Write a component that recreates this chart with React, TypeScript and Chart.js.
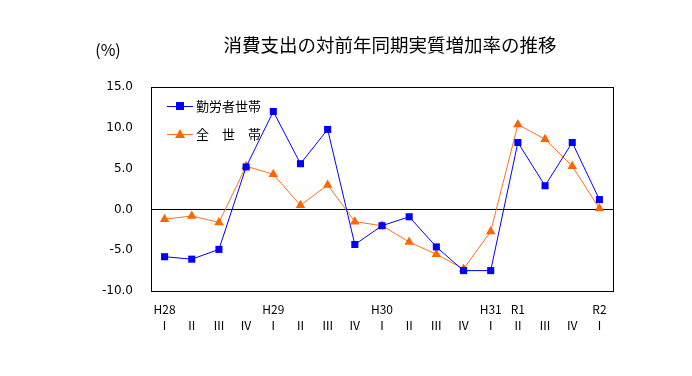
import React, { useEffect, useRef } from "react";
import { Chart, registerables } from "chart.js";

Chart.register(...registerables);

const yearLabels = ["H28", "", "", "", "H29", "", "", "", "H30", "", "", "", "H31", "R1", "", "", "R2"];
const quarterLabels = ["Ⅰ", "Ⅱ", "Ⅲ", "Ⅳ", "Ⅰ", "Ⅱ", "Ⅲ", "Ⅳ", "Ⅰ", "Ⅱ", "Ⅲ", "Ⅳ", "Ⅰ", "Ⅱ", "Ⅲ", "Ⅳ", "Ⅰ"];
const workerHouseholds = [-5.8, -6.1, -4.9, 5.2, 12.0, 5.6, 9.8, -4.3, -2.0, -0.9, -4.6, -7.5, -7.5, 8.2, 2.9, 8.2, 1.2];
const allHouseholds = [-1.2, -0.8, -1.6, 5.3, 4.3, 0.5, 3.0, -1.5, -2.0, -4.0, -5.5, -7.3, -2.7, 10.4, 8.6, 5.3, 0.1];
const seriesNames = ["勤労者世帯", "全　世　帯"];
const titleText = "消費支出の対前年同期実質増加率の推移";
const unitText = "(%)";

const FONT = "'Noto Sans CJK JP', 'DejaVu Sans', sans-serif";
const NUMFONT = "'DejaVu Sans', sans-serif";

const decorPlugin = {
  id: "decor",
  afterDraw(chart: any) {
    const { ctx, chartArea } = chart;
    ctx.save();
    ctx.strokeStyle = "#000";
    ctx.lineWidth = 1;
    ctx.strokeRect(
      Math.round(chartArea.left) + 0.5,
      Math.round(chartArea.top) + 0.5,
      Math.round(chartArea.right - chartArea.left),
      Math.round(chartArea.bottom - chartArea.top)
    );
    ctx.fillStyle = "#000";
    ctx.font = `18.5px ${FONT}`;
    ctx.textBaseline = "middle";
    ctx.textAlign = "center";
    ctx.fillText(titleText, 390, 45);
    ctx.font = `16px ${FONT}`;
    ctx.fillText(unitText, 108, 50);
    const ds = chart.data.datasets;
    const rows = [106, 134];
    ds.forEach((d: any, i: number) => {
      const y = rows[i];
      ctx.strokeStyle = d.borderColor;
      ctx.lineWidth = 1;
      ctx.beginPath();
      ctx.moveTo(167, y + 0.5);
      ctx.lineTo(193, y + 0.5);
      ctx.stroke();
      ctx.fillStyle = d.pointBackgroundColor;
      if (d.pointStyle === "rect") {
        ctx.fillRect(176, y - 4, 8, 8);
      } else {
        ctx.beginPath();
        ctx.moveTo(180, y - 5);
        ctx.lineTo(185, y + 4);
        ctx.lineTo(175, y + 4);
        ctx.closePath();
        ctx.fill();
      }
      ctx.fillStyle = "#000";
      ctx.font = `13px ${FONT}`;
      ctx.textAlign = "left";
      ctx.fillText(d.label, 196, y);
    });
    ctx.restore();
  },
};

export default function App() {
  const ref = useRef<HTMLCanvasElement>(null);
  useEffect(() => {
    if (!ref.current) return;
    const labels = quarterLabels.map((q, i) => [yearLabels[i], q]);
    const chart = new Chart(ref.current, {
      type: "line",
      data: {
        labels,
        datasets: [
          {
            label: seriesNames[0],
            data: workerHouseholds,
            borderColor: "#0000FF",
            backgroundColor: "#0000FF",
            pointBackgroundColor: "#0000FF",
            pointBorderColor: "#0000FF",
            pointStyle: "rect",
            pointRadius: 5,
            borderWidth: 1,
            pointBorderWidth: 0,
          },
          {
            label: seriesNames[1],
            data: allHouseholds,
            borderColor: "#FF7020",
            backgroundColor: "#FF6600",
            pointBackgroundColor: "#FF6600",
            pointBorderColor: "#FF6600",
            pointStyle: "triangle",
            pointRadius: 5.5,
            borderWidth: 1,
            pointBorderWidth: 0,
          },
        ] as any,
      },
      options: {
        animation: false,
        responsive: false,
        maintainAspectRatio: false,
        layout: { padding: { left: 0, right: 79, top: 87, bottom: 0 } },
        plugins: { legend: { display: false }, tooltip: { enabled: false }, title: { display: false } },
        scales: {
          x: {
            offset: true,
            grid: { display: false, drawTicks: false },
            border: { display: false },
            ticks: {
              color: "#000",
              font: { family: FONT, size: 12, lineHeight: 1.35 },
              padding: 10,
              maxRotation: 0,
              autoSkip: false,
            },
            afterFit: (s: any) => {
              s.height = 85;
            },
          },
          y: {
            min: -10,
            max: 15,
            grid: {
              drawTicks: false,
              color: (c: any) => (c.tick && c.tick.value === 0 ? "#000" : "rgba(0,0,0,0)"),
            },
            border: { display: false },
            ticks: {
              stepSize: 5,
              color: "#000",
              padding: 18,
              font: { family: NUMFONT, size: 12 },
              callback: (v: any) => Number(v).toFixed(1),
            },
            afterFit: (s: any) => {
              s.width = 151;
            },
          },
        },
      },
      plugins: [decorPlugin],
    });
    return () => chart.destroy();
  }, []);
  return (
    <div style={{ position: "fixed", left: 0, top: 0, width: 692, height: 376, background: "#fff" }}>
      <canvas ref={ref} width={692} height={376} style={{ width: 692, height: 376 }} />
    </div>
  );
}
